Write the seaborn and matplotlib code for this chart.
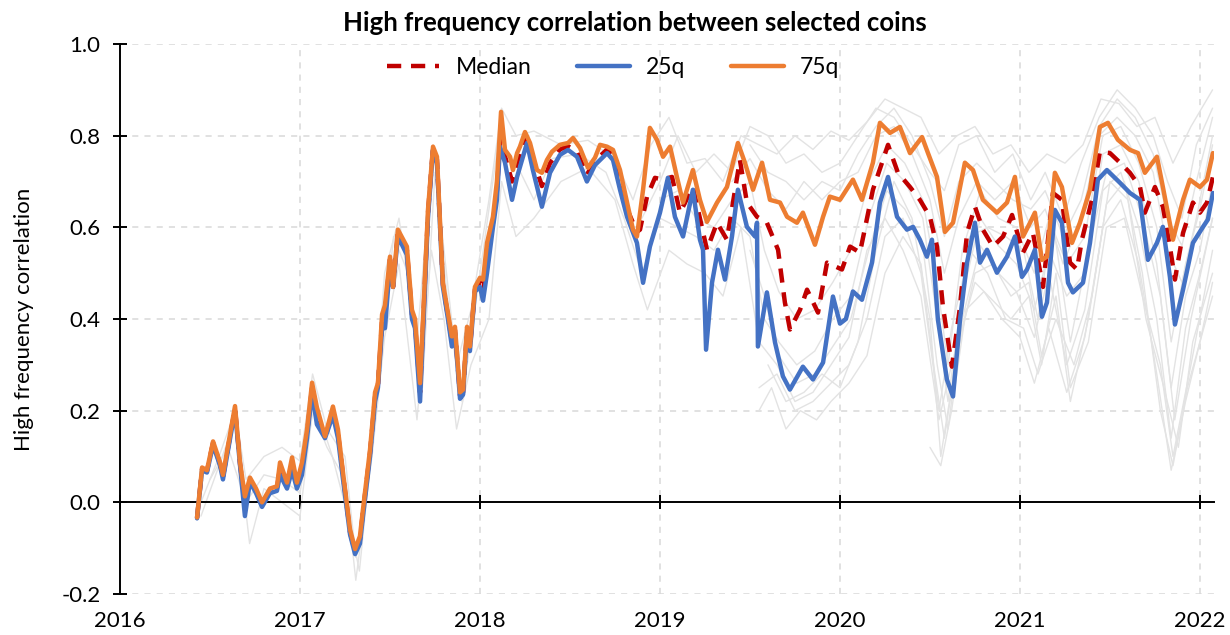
import numpy as np
import pandas as pd
import seaborn as sns
import matplotlib
matplotlib.use('Agg')
import matplotlib.pyplot as plt
from matplotlib.ticker import FormatStrFormatter

# ---- quantile lines (decimal year, correlation) ----
q75_t = [2016.428, 2016.456, 2016.483, 2016.517, 2016.556, 2016.572, 2016.594, 2016.639, 2016.667, 2016.694,
         2016.722, 2016.756, 2016.789, 2016.833, 2016.872, 2016.889, 2016.928, 2016.956, 2016.983, 2017.011,
         2017.039, 2017.067, 2017.094, 2017.139, 2017.183, 2017.211, 2017.239, 2017.278, 2017.306, 2017.333,
         2017.350, 2017.389, 2017.417, 2017.433, 2017.456, 2017.472, 2017.500, 2017.517, 2017.544, 2017.594,
         2017.622, 2017.639, 2017.667, 2017.689, 2017.711, 2017.739, 2017.761, 2017.794, 2017.822, 2017.844,
         2017.861, 2017.889, 2017.906, 2017.928, 2017.944, 2017.972, 2018.000, 2018.017, 2018.039, 2018.072,
         2018.094, 2018.117, 2018.139, 2018.167, 2018.183, 2018.206, 2018.222, 2018.250, 2018.278, 2018.317,
         2018.344, 2018.372, 2018.400, 2018.444, 2018.489, 2018.517, 2018.556, 2018.600, 2018.639, 2018.667,
         2018.706, 2018.739, 2018.778, 2018.817, 2018.850, 2018.872, 2018.906, 2018.944, 2018.983, 2019.017,
         2019.056, 2019.094, 2019.128, 2019.183, 2019.222, 2019.261, 2019.317, 2019.372, 2019.433, 2019.472,
         2019.517, 2019.567, 2019.611, 2019.667, 2019.706, 2019.761, 2019.794, 2019.861, 2019.906, 2019.944,
         2020.000, 2020.072, 2020.122, 2020.183, 2020.222, 2020.278, 2020.333, 2020.389, 2020.456, 2020.489,
         2020.539, 2020.583, 2020.628, 2020.694, 2020.739, 2020.794, 2020.872, 2020.928, 2020.972, 2021.017,
         2021.056, 2021.083, 2021.122, 2021.150, 2021.194, 2021.233, 2021.289, 2021.333, 2021.389, 2021.444,
         2021.489, 2021.544, 2021.611, 2021.656, 2021.694, 2021.761, 2021.794, 2021.850, 2021.906, 2021.944,
         2022.000, 2022.039, 2022.072]
q75_v = [-0.033, 0.076, 0.07, 0.133, 0.087, 0.06, 0.11, 0.21, 0.087, 0.013,
         0.054, 0.03, 0.0, 0.03, 0.035, 0.087, 0.043, 0.098, 0.043, 0.087,
         0.159, 0.261, 0.207, 0.144, 0.209, 0.159, 0.065, -0.059, -0.102, -0.074,
         -0.015, 0.115, 0.24, 0.26, 0.41, 0.43, 0.536, 0.47, 0.595, 0.558,
         0.42, 0.40, 0.26, 0.45, 0.638, 0.776, 0.754, 0.479, 0.413, 0.362,
         0.383, 0.24, 0.246, 0.383, 0.34, 0.47, 0.49, 0.486, 0.566, 0.623,
         0.70, 0.852, 0.769, 0.754, 0.725, 0.762, 0.776, 0.808, 0.784, 0.725,
         0.719, 0.747, 0.765, 0.780, 0.784, 0.795, 0.773, 0.73, 0.752, 0.78,
         0.776, 0.769, 0.725, 0.654, 0.595, 0.58, 0.682, 0.817, 0.791, 0.754,
         0.776, 0.71, 0.654, 0.725, 0.66, 0.612, 0.654, 0.688, 0.784, 0.741,
         0.682, 0.741, 0.66, 0.654, 0.623, 0.61, 0.632, 0.562, 0.623, 0.667,
         0.66, 0.704, 0.66, 0.741, 0.828, 0.806, 0.819, 0.762, 0.797, 0.762,
         0.71, 0.59, 0.61, 0.741, 0.725, 0.66, 0.632, 0.654, 0.71, 0.58,
         0.61, 0.632, 0.529, 0.536, 0.719, 0.688, 0.566, 0.61, 0.682, 0.819,
         0.828, 0.791, 0.769, 0.762, 0.719, 0.754, 0.688, 0.573, 0.66, 0.704,
         0.688, 0.704, 0.762]

q25_t = [2016.428, 2016.456, 2016.483, 2016.517, 2016.556, 2016.572, 2016.594, 2016.639, 2016.667, 2016.694,
         2016.722, 2016.756, 2016.789, 2016.833, 2016.872, 2016.889, 2016.928, 2016.956, 2016.983, 2017.011,
         2017.039, 2017.067, 2017.094, 2017.139, 2017.183, 2017.211, 2017.239, 2017.278, 2017.306, 2017.333,
         2017.350, 2017.389, 2017.417, 2017.433, 2017.456, 2017.472, 2017.500, 2017.517, 2017.544, 2017.594,
         2017.622, 2017.639, 2017.667, 2017.689, 2017.711, 2017.739, 2017.761, 2017.794, 2017.822, 2017.844,
         2017.861, 2017.889, 2017.906, 2017.928, 2017.944, 2017.972, 2018.000, 2018.017, 2018.039, 2018.072,
         2018.094, 2018.111, 2018.139, 2018.178, 2018.206, 2018.261, 2018.294, 2018.344, 2018.389, 2018.444,
         2018.489, 2018.539, 2018.594, 2018.639, 2018.706, 2018.739, 2018.778, 2018.817, 2018.872, 2018.906,
         2018.944, 2019.000, 2019.044, 2019.083, 2019.128, 2019.183, 2019.222, 2019.239, 2019.256, 2019.289,
         2019.322, 2019.361, 2019.400, 2019.433, 2019.483, 2019.528, 2019.539, 2019.544, 2019.594, 2019.639,
         2019.683, 2019.722, 2019.794, 2019.850, 2019.906, 2019.961, 2020.000, 2020.033, 2020.072, 2020.122,
         2020.178, 2020.222, 2020.267, 2020.317, 2020.372, 2020.406, 2020.444, 2020.483, 2020.511, 2020.544,
         2020.594, 2020.628, 2020.667, 2020.706, 2020.750, 2020.778, 2020.817, 2020.872, 2020.928, 2020.972,
         2021.011, 2021.039, 2021.083, 2021.122, 2021.150, 2021.194, 2021.233, 2021.267, 2021.294, 2021.350,
         2021.389, 2021.433, 2021.483, 2021.556, 2021.611, 2021.667, 2021.711, 2021.761, 2021.794, 2021.833,
         2021.861, 2021.906, 2021.961, 2022.017, 2022.044, 2022.072]
q25_v = [-0.035, 0.07, 0.065, 0.125, 0.08, 0.05, 0.10, 0.20, 0.08, -0.03,
         0.045, 0.02, -0.01, 0.02, 0.025, 0.06, 0.03, 0.07, 0.03, 0.06,
         0.14, 0.24, 0.17, 0.14, 0.19, 0.14, 0.05, -0.07, -0.113, -0.09,
         -0.03, 0.10, 0.22, 0.25, 0.38, 0.38, 0.52, 0.47, 0.58, 0.54,
         0.40, 0.38, 0.22, 0.42, 0.62, 0.77, 0.74, 0.47, 0.40, 0.34,
         0.37, 0.226, 0.235, 0.37, 0.33, 0.46, 0.47, 0.44, 0.50, 0.60,
         0.66, 0.776, 0.741, 0.66, 0.71, 0.784, 0.725, 0.645, 0.719, 0.758,
         0.769, 0.754, 0.70, 0.736, 0.762, 0.747, 0.682, 0.623, 0.566, 0.479,
         0.558, 0.632, 0.708, 0.623, 0.58, 0.682, 0.573, 0.551, 0.333, 0.479,
         0.551, 0.486, 0.58, 0.682, 0.601, 0.58, 0.61, 0.34, 0.458, 0.349,
         0.275, 0.246, 0.296, 0.268, 0.305, 0.449, 0.39, 0.40, 0.46, 0.442,
         0.523, 0.654, 0.71, 0.623, 0.595, 0.601, 0.573, 0.536, 0.573, 0.399,
         0.268, 0.231, 0.399, 0.523, 0.61, 0.523, 0.551, 0.501, 0.536, 0.58,
         0.492, 0.508, 0.551, 0.405, 0.436, 0.638, 0.61, 0.479, 0.458, 0.479,
         0.566, 0.704, 0.725, 0.697, 0.675, 0.66, 0.529, 0.566, 0.601, 0.492,
         0.388, 0.464, 0.566, 0.601, 0.617, 0.675]

median_t = [2016.428, 2016.456, 2016.483, 2016.517, 2016.556, 2016.572, 2016.594, 2016.639, 2016.667, 2016.694,
            2016.722, 2016.756, 2016.789, 2016.833, 2016.872, 2016.889, 2016.928, 2016.956, 2016.983, 2017.011,
            2017.039, 2017.067, 2017.094, 2017.139, 2017.183, 2017.211, 2017.239, 2017.278, 2017.306, 2017.333,
            2017.350, 2017.389, 2017.417, 2017.433, 2017.456, 2017.472, 2017.500, 2017.517, 2017.544, 2017.594,
            2017.622, 2017.639, 2017.667, 2017.689, 2017.711, 2017.739, 2017.761, 2017.794, 2017.822, 2017.844,
            2017.861, 2017.889, 2017.906, 2017.928, 2017.944, 2017.972, 2018.000, 2018.017, 2018.039, 2018.072,
            2018.094, 2018.117,
            2018.139, 2018.178, 2018.206, 2018.250, 2018.294, 2018.344, 2018.389, 2018.444, 2018.489, 2018.539,
            2018.594, 2018.639, 2018.706, 2018.739, 2018.778, 2018.817, 2018.872, 2018.889, 2018.928, 2018.972,
            2019.017, 2019.067, 2019.111, 2019.183, 2019.261, 2019.317, 2019.372, 2019.444, 2019.483, 2019.539,
            2019.594, 2019.656, 2019.694, 2019.722, 2019.778, 2019.817, 2019.878, 2019.928, 2020.011, 2020.056,
            2020.111, 2020.183, 2020.267, 2020.322, 2020.389, 2020.444, 2020.500, 2020.539, 2020.572, 2020.622,
            2020.667, 2020.706, 2020.750, 2020.794, 2020.850, 2020.906, 2020.956, 2021.017, 2021.072, 2021.128,
            2021.183, 2021.233, 2021.278, 2021.317, 2021.344, 2021.400, 2021.444, 2021.500, 2021.556, 2021.611,
            2021.667, 2021.694, 2021.750, 2021.794, 2021.833, 2021.861, 2021.906, 2021.961, 2022.000, 2022.039,
            2022.072]
median_v = [-0.034, 0.073, 0.068, 0.13, 0.083, 0.055, 0.105, 0.205, 0.083, 0.0,
            0.05, 0.025, -0.005, 0.025, 0.03, 0.075, 0.037, 0.085, 0.037, 0.075,
            0.15, 0.25, 0.19, 0.14, 0.20, 0.15, 0.06, -0.065, -0.108, -0.082,
            -0.02, 0.108, 0.23, 0.255, 0.395, 0.41, 0.53, 0.47, 0.59, 0.55,
            0.41, 0.39, 0.24, 0.435, 0.63, 0.773, 0.747, 0.475, 0.406, 0.35,
            0.376, 0.233, 0.24, 0.377, 0.335, 0.465, 0.48, 0.455, 0.533, 0.61,
            0.68, 0.82,
            0.755, 0.70, 0.74, 0.795, 0.75, 0.69, 0.74, 0.77, 0.777, 0.765,
            0.715, 0.745, 0.77, 0.758, 0.70, 0.64, 0.59, 0.595, 0.667, 0.708,
            0.704, 0.71, 0.632, 0.688, 0.551, 0.61, 0.573, 0.747, 0.654, 0.623,
            0.61, 0.551, 0.436, 0.377, 0.42, 0.464, 0.414, 0.523, 0.508, 0.558,
            0.545, 0.682, 0.78, 0.719, 0.688, 0.66, 0.623, 0.558, 0.427, 0.296,
            0.427, 0.588, 0.645, 0.595, 0.558, 0.58, 0.627, 0.545, 0.588, 0.47,
            0.675, 0.66, 0.523, 0.508, 0.573, 0.66, 0.765, 0.762, 0.741, 0.719,
            0.688, 0.632, 0.688, 0.645, 0.558, 0.486, 0.588, 0.654, 0.632, 0.654,
            0.71]

# ---- individual coins (thin grey lines), rough readings ----
coin_a_t = [2016.45, 2016.55, 2016.64, 2016.70, 2016.80, 2016.90, 2017.00, 2017.07, 2017.15, 2017.25,
            2017.31, 2017.40, 2017.47, 2017.55, 2017.65, 2017.74, 2017.80, 2017.87, 2017.95, 2018.05,
            2018.12, 2018.20, 2018.30, 2018.45, 2018.60, 2018.75, 2018.85, 2018.95, 2019.05, 2019.15,
            2019.25, 2019.35, 2019.45, 2019.55, 2019.65, 2019.75, 2019.85, 2019.95, 2020.05, 2020.15,
            2020.25, 2020.35, 2020.45, 2020.55, 2020.65, 2020.75, 2020.85, 2020.95, 2021.05, 2021.15,
            2021.25, 2021.35, 2021.45, 2021.55, 2021.65, 2021.75, 2021.85, 2021.95, 2022.07]
coin_a_v = [0.0, 0.10, 0.20, 0.05, 0.10, 0.12, 0.09, 0.28, 0.16, 0.10,
            -0.12, 0.12, 0.50, 0.62, 0.35, 0.78, 0.55, 0.30, 0.42, 0.66,
            0.86, 0.80, 0.81, 0.78, 0.79, 0.75, 0.66, 0.78, 0.84, 0.74,
            0.75, 0.70, 0.80, 0.78, 0.76, 0.80, 0.77, 0.81, 0.79, 0.83,
            0.88, 0.86, 0.84, 0.76, 0.80, 0.82, 0.76, 0.78, 0.72, 0.76,
            0.74, 0.78, 0.88, 0.87, 0.82, 0.84, 0.74, 0.82, 0.90]
coin_b_t = [2016.45, 2016.55, 2016.64, 2016.72, 2016.80, 2016.90, 2017.00, 2017.07, 2017.15, 2017.25,
            2017.31, 2017.40, 2017.47, 2017.55, 2017.65, 2017.73, 2017.80, 2017.87, 2017.95, 2018.05,
            2018.12, 2018.20, 2018.30, 2018.45, 2018.60, 2018.75, 2018.85, 2018.93, 2019.05, 2019.15,
            2019.25, 2019.35, 2019.45, 2019.55, 2019.65, 2019.75, 2019.85, 2019.95, 2020.05, 2020.15,
            2020.25, 2020.35, 2020.45, 2020.55, 2020.62, 2020.75, 2020.85, 2020.95, 2021.05, 2021.12,
            2021.20, 2021.28, 2021.38, 2021.48, 2021.58, 2021.68, 2021.78, 2021.85, 2021.95, 2022.07]
coin_b_v = [-0.03, 0.08, 0.18, -0.09, 0.03, 0.0, -0.03, 0.20, 0.12, 0.05,
            -0.17, 0.10, 0.36, 0.52, 0.18, 0.55, 0.40, 0.16, 0.30, 0.40,
            0.70, 0.58, 0.62, 0.70, 0.73, 0.66, 0.52, 0.42, 0.55, 0.52,
            0.50, 0.45, 0.60, 0.35, 0.30, 0.22, 0.24, 0.30, 0.36, 0.55,
            0.62, 0.55, 0.45, 0.18, 0.30, 0.48, 0.44, 0.40, 0.45, 0.30,
            0.50, 0.25, 0.35, 0.60, 0.62, 0.45, 0.30, 0.10, 0.30, 0.55]
coin_c_t = [2019.55, 2019.62, 2019.70, 2019.78, 2019.87, 2019.95, 2020.05, 2020.15, 2020.25, 2020.35,
            2020.45, 2020.52, 2020.58, 2020.65, 2020.75, 2020.85, 2020.95, 2021.05, 2021.12, 2021.20,
            2021.28, 2021.38, 2021.48, 2021.58, 2021.68, 2021.78, 2021.85, 2021.93, 2022.07]
coin_c_v = [0.20, 0.25, 0.16, 0.20, 0.18, 0.22, 0.26, 0.32, 0.50, 0.58,
            0.52, 0.30, 0.14, 0.32, 0.50, 0.52, 0.45, 0.48, 0.32, 0.45,
            0.22, 0.40, 0.65, 0.70, 0.50, 0.20, 0.08, 0.25, 0.45]
coin_d_t = [2019.60, 2019.70, 2019.80, 2019.90, 2020.00, 2020.10, 2020.20, 2020.30, 2020.40, 2020.50,
            2020.56, 2020.62, 2020.72, 2020.82, 2020.92, 2021.02, 2021.10, 2021.18, 2021.28, 2021.38,
            2021.48, 2021.58, 2021.68, 2021.78, 2021.86, 2021.95, 2022.07]
coin_d_v = [0.30, 0.22, 0.24, 0.28, 0.25, 0.35, 0.55, 0.70, 0.62, 0.40,
            0.10, 0.25, 0.58, 0.60, 0.58, 0.55, 0.40, 0.62, 0.35, 0.55,
            0.72, 0.74, 0.62, 0.45, 0.18, 0.40, 0.62]
coin_e_t = [2018.90, 2019.00, 2019.10, 2019.20, 2019.30, 2019.40, 2019.50, 2019.60, 2019.70, 2019.80,
            2019.90, 2020.00, 2020.10, 2020.20, 2020.30, 2020.40, 2020.50, 2020.58, 2020.66, 2020.76,
            2020.86, 2020.96, 2021.06, 2021.14, 2021.24, 2021.34, 2021.44, 2021.54, 2021.64, 2021.74,
            2021.82, 2021.90, 2021.98, 2022.07]
coin_e_v = [0.62, 0.70, 0.80, 0.72, 0.76, 0.72, 0.82, 0.80, 0.74, 0.76,
            0.72, 0.74, 0.80, 0.86, 0.84, 0.78, 0.72, 0.68, 0.78, 0.80,
            0.72, 0.76, 0.66, 0.72, 0.62, 0.74, 0.84, 0.90, 0.86, 0.80,
            0.70, 0.62, 0.78, 0.86]
coin_f_t = [2019.00, 2019.10, 2019.20, 2019.30, 2019.40, 2019.50, 2019.58, 2019.66, 2019.76, 2019.86,
            2019.96, 2020.06, 2020.16, 2020.26, 2020.36, 2020.46, 2020.54, 2020.60, 2020.68, 2020.78,
            2020.88, 2020.98, 2021.08, 2021.16, 2021.26, 2021.36, 2021.46, 2021.56, 2021.66, 2021.76,
            2021.84, 2021.92, 2022.00, 2022.07]
coin_f_v = [0.62, 0.60, 0.58, 0.55, 0.62, 0.58, 0.40, 0.35, 0.30, 0.33,
            0.40, 0.45, 0.62, 0.74, 0.70, 0.62, 0.40, 0.22, 0.45, 0.62,
            0.56, 0.52, 0.42, 0.55, 0.45, 0.50, 0.76, 0.78, 0.70, 0.52,
            0.25, 0.45, 0.55, 0.70]
coin_g_t = [2019.55, 2019.65, 2019.75, 2019.85, 2019.95, 2020.05, 2020.15, 2020.25, 2020.35, 2020.45,
            2020.55, 2020.62, 2020.72, 2020.82, 2020.92, 2021.02, 2021.10, 2021.20, 2021.30, 2021.40,
            2021.50, 2021.60, 2021.70, 2021.80, 2021.88, 2021.96, 2022.07]
coin_g_v = [0.25, 0.28, 0.20, 0.22, 0.26, 0.30, 0.40, 0.58, 0.62, 0.50,
            0.20, 0.38, 0.55, 0.50, 0.40, 0.38, 0.28, 0.40, 0.30, 0.45,
            0.70, 0.66, 0.40, 0.25, 0.12, 0.35, 0.50]
coin_h_t = [2019.40, 2019.50, 2019.60, 2019.70, 2019.80, 2019.90, 2020.00, 2020.10, 2020.20, 2020.30,
            2020.40, 2020.50, 2020.58, 2020.66, 2020.76, 2020.86, 2020.96, 2021.06, 2021.14, 2021.24,
            2021.34, 2021.44, 2021.54, 2021.64, 2021.74, 2021.82, 2021.90, 2021.98, 2022.07]
coin_h_v = [0.70, 0.75, 0.68, 0.64, 0.70, 0.66, 0.70, 0.72, 0.80, 0.82,
            0.76, 0.66, 0.50, 0.62, 0.70, 0.66, 0.70, 0.60, 0.64, 0.52,
            0.62, 0.80, 0.84, 0.80, 0.72, 0.55, 0.48, 0.62, 0.80]
coin_i_t = [2019.50, 2019.58, 2019.66, 2019.76, 2019.86, 2019.96, 2020.06, 2020.16, 2020.26, 2020.36,
            2020.46, 2020.54, 2020.60, 2020.68, 2020.78, 2020.88, 2020.98, 2021.08, 2021.16, 2021.26,
            2021.36, 2021.46, 2021.56, 2021.66, 2021.76, 2021.84, 2021.92, 2022.00, 2022.07]
coin_i_v = [0.55, 0.45, 0.32, 0.26, 0.28, 0.34, 0.40, 0.55, 0.68, 0.64,
            0.56, 0.30, 0.16, 0.40, 0.56, 0.50, 0.46, 0.36, 0.50, 0.30,
            0.42, 0.68, 0.72, 0.60, 0.40, 0.14, 0.38, 0.50, 0.62]
coin_j_t = [2019.50, 2019.60, 2019.70, 2019.80, 2019.90, 2020.00, 2020.10, 2020.20, 2020.30, 2020.40,
            2020.50, 2020.58, 2020.66, 2020.76, 2020.86, 2020.96, 2021.06, 2021.14, 2021.24, 2021.34,
            2021.44, 2021.54, 2021.64, 2021.74, 2021.82, 2021.90, 2021.98, 2022.07]
coin_j_v = [0.78, 0.72, 0.70, 0.66, 0.70, 0.68, 0.76, 0.82, 0.86, 0.80,
            0.70, 0.58, 0.70, 0.74, 0.70, 0.66, 0.64, 0.68, 0.58, 0.66,
            0.82, 0.88, 0.84, 0.76, 0.62, 0.56, 0.70, 0.84]
coin_k_t = [2020.50, 2020.56, 2020.62, 2020.70, 2020.80, 2020.90, 2021.00, 2021.08, 2021.16, 2021.26,
            2021.36, 2021.46, 2021.56, 2021.66, 2021.76, 2021.84, 2021.92, 2022.00, 2022.07]
coin_k_v = [0.12, 0.08, 0.20, 0.42, 0.46, 0.40, 0.36, 0.26, 0.38, 0.24,
            0.36, 0.60, 0.66, 0.52, 0.28, 0.07, 0.22, 0.35, 0.48]
coin_l_t = [2019.00, 2019.10, 2019.20, 2019.30, 2019.40, 2019.50, 2019.58, 2019.66, 2019.76, 2019.86,
            2019.96, 2020.06, 2020.16, 2020.26, 2020.36, 2020.46, 2020.54, 2020.60, 2020.68, 2020.78,
            2020.88, 2020.98, 2021.08, 2021.16, 2021.26, 2021.36, 2021.46, 2021.56, 2021.66, 2021.76,
            2021.84, 2021.92, 2022.00, 2022.07]
coin_l_v = [0.66, 0.68, 0.62, 0.60, 0.66, 0.70, 0.55, 0.46, 0.40, 0.42,
            0.48, 0.55, 0.70, 0.78, 0.74, 0.66, 0.48, 0.30, 0.55, 0.68,
            0.62, 0.60, 0.50, 0.62, 0.52, 0.58, 0.80, 0.82, 0.74, 0.60,
            0.35, 0.52, 0.64, 0.78]
coin_m_t = [2016.50, 2016.60, 2016.70, 2016.80, 2016.90, 2017.00, 2017.08, 2017.18, 2017.28, 2017.33,
            2017.42, 2017.52, 2017.60, 2017.68, 2017.75, 2017.83, 2017.90, 2018.00, 2018.10, 2018.20,
            2018.30, 2018.40, 2018.55, 2018.70, 2018.80, 2018.90, 2019.00]
coin_m_v = [0.05, 0.12, 0.00, 0.06, 0.05, 0.02, 0.22, 0.10, -0.05, -0.15,
            0.20, 0.58, 0.50, 0.25, 0.72, 0.40, 0.22, 0.50, 0.78, 0.74,
            0.66, 0.75, 0.76, 0.72, 0.62, 0.50, 0.62]

year_ticks = [2016, 2017, 2018, 2019, 2020, 2021, 2022]
y_ticks = [-0.2, 0.0, 0.2, 0.4, 0.6, 0.8, 1.0]

coins = {'a': (coin_a_t, coin_a_v), 'b': (coin_b_t, coin_b_v), 'c': (coin_c_t, coin_c_v),
         'd': (coin_d_t, coin_d_v), 'e': (coin_e_t, coin_e_v), 'f': (coin_f_t, coin_f_v),
         'g': (coin_g_t, coin_g_v), 'h': (coin_h_t, coin_h_v), 'i': (coin_i_t, coin_i_v),
         'j': (coin_j_t, coin_j_v), 'k': (coin_k_t, coin_k_v), 'l': (coin_l_t, coin_l_v),
         'm': (coin_m_t, coin_m_v)}
gray = pd.concat([pd.DataFrame({'date': t, 'corr': v, 'coin': k}) for k, (t, v) in coins.items()])

sns.set_style('white')
plt.rcParams['font.family'] = ['Lato', 'DejaVu Sans']
plt.rcParams['text.color'] = 'black'
plt.rcParams['axes.labelcolor'] = 'black'

fig = plt.figure(figsize=(12.3, 6.35), dpi=100)
ax = fig.add_axes([120 / 1230, 41 / 635, 1094 / 1230, 550 / 635])

sns.lineplot(data=gray, x='date', y='corr', units='coin', estimator=None,
             color='#e3e3e3', lw=1.0, ax=ax, zorder=2)
sns.lineplot(x=median_t, y=median_v, ax=ax, color='#C00000', lw=3.2,
             linestyle=(0, (3.2, 2.2)), label='Median', zorder=3)
sns.lineplot(x=q25_t, y=q25_v, ax=ax, color='#4472C4', lw=3.2, label='25q', zorder=4)
sns.lineplot(x=q75_t, y=q75_v, ax=ax, color='#ED7D31', lw=3.2, label='75q', zorder=5)

ax.set_xlim(2016, 2022.078)
ax.set_ylim(-0.2, 1.0)
ax.set_xticks(year_ticks)
ax.set_yticks(y_ticks)
ax.yaxis.set_major_formatter(FormatStrFormatter('%.1f'))
ax.grid(True, color='#d9d9d9', ls=(0, (4, 4)), lw=1.1)

for s in ['top', 'right']:
    ax.spines[s].set_visible(False)
ax.spines['bottom'].set_position(('data', 0))
for s in ['bottom', 'left']:
    ax.spines[s].set_color('black')
    ax.spines[s].set_linewidth(1.4)
ax.tick_params(axis='both', direction='inout', length=10, width=1.4, color='black',
               labelsize=16, labelcolor='black', left=True, bottom=True)
ax.tick_params(axis='x', labelbottom=False)
ax.tick_params(axis='y', pad=9)

sec = ax.secondary_xaxis(0)
sec.set_xticks(year_ticks)
sec.tick_params(length=0, pad=12, labelsize=16, labelcolor='black')
sec.spines['bottom'].set_visible(False)

ax.set_xlabel('')
ax.set_ylabel('High frequency correlation', fontsize=16, labelpad=20)

fig.text(0.516, 0.963, 'High frequency correlation between selected coins',
         ha='center', va='center', fontsize=18.5, fontweight='bold', color='black')

ax.legend(loc='center', bbox_to_anchor=(613 / 1230, 1 - 68 / 635), bbox_transform=fig.transFigure,
          ncol=3, frameon=False, fontsize=16.5, handlelength=2.3, handletextpad=0.7,
          columnspacing=2.0, labelcolor='black')

fig.savefig('out.png', dpi=100)
